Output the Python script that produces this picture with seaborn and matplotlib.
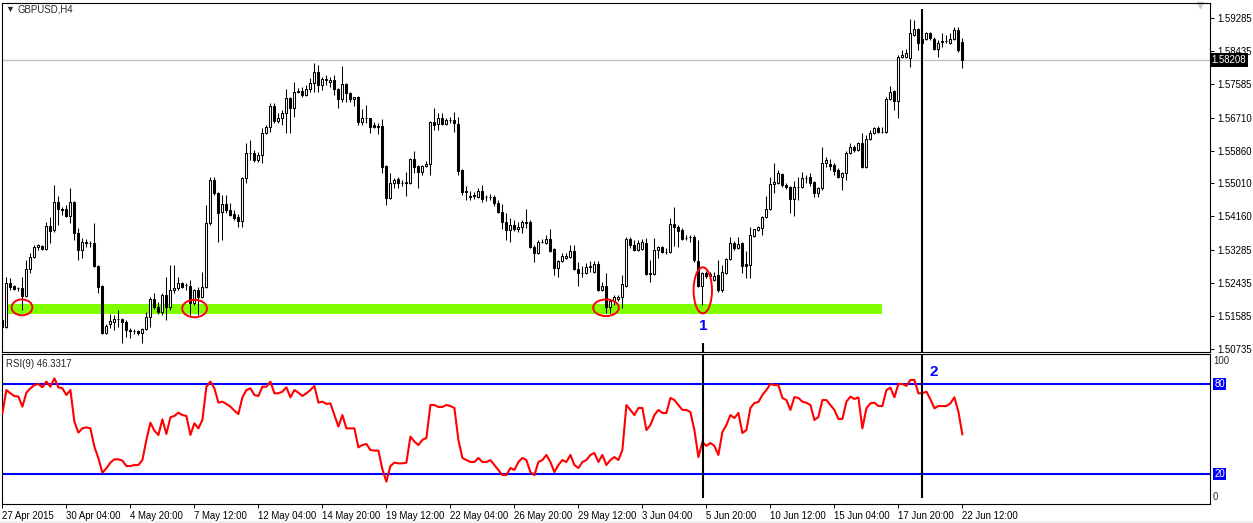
import numpy as np
import pandas as pd
import matplotlib
matplotlib.use("Agg")
import matplotlib.pyplot as plt
from matplotlib.patches import Ellipse, Rectangle
import seaborn as sns

# ---------------- data (GBPUSD H4) ----------------
opens = [
 1.5148, 1.5130, 1.5244, 1.5236, 1.5231, 1.5231, 1.5210, 1.5280, 1.5311, 1.5337,
 1.5340, 1.5332, 1.5391, 1.5381, 1.5453, 1.5435, 1.5435, 1.5417, 1.5453, 1.5373,
 1.5329, 1.5350, 1.5347, 1.5347, 1.5288, 1.5236, 1.5115, 1.5138, 1.5143, 1.5151,
 1.5151, 1.5143, 1.5123, 1.5120, 1.5120, 1.5115, 1.5125, 1.5156, 1.5203, 1.5182,
 1.5169, 1.5213, 1.5182, 1.5226, 1.5231, 1.5244, 1.5239, 1.5236, 1.5192, 1.5226,
 1.5208, 1.5234, 1.5399, 1.5510, 1.5476, 1.5427, 1.5448, 1.5432, 1.5422, 1.5414,
 1.5404, 1.5515, 1.5580, 1.5579, 1.5562, 1.5575, 1.5631, 1.5647, 1.5701, 1.5662,
 1.5670, 1.5683, 1.5722, 1.5696, 1.5737, 1.5740, 1.5730, 1.5745, 1.5761, 1.5789,
 1.5755, 1.5768, 1.5763, 1.5768, 1.5745, 1.5719, 1.5758, 1.5735, 1.5719, 1.5724,
 1.5660, 1.5670, 1.5669, 1.5652, 1.5649, 1.5649, 1.5546, 1.5464, 1.5502, 1.5513,
 1.5502, 1.5502, 1.5502, 1.5564, 1.5546, 1.5531, 1.5546, 1.5551, 1.5660, 1.5655,
 1.5670, 1.5655, 1.5665, 1.5664, 1.5655, 1.5536, 1.5481, 1.5468, 1.5468, 1.5466,
 1.5481, 1.5466, 1.5465, 1.5466, 1.5451, 1.5427, 1.5401, 1.5381, 1.5394, 1.5383,
 1.5389, 1.5401, 1.5401, 1.5337, 1.5321, 1.5350, 1.5347, 1.5358, 1.5332, 1.5283,
 1.5301, 1.5308, 1.5311, 1.5327, 1.5280, 1.5270, 1.5270, 1.5285, 1.5272, 1.5293,
 1.5226, 1.5236, 1.5182, 1.5197, 1.5203, 1.5208, 1.5236, 1.5358, 1.5342, 1.5329,
 1.5332, 1.5347, 1.5267, 1.5267, 1.5329, 1.5337, 1.5324, 1.5324, 1.5396, 1.5389,
 1.5381, 1.5360, 1.5363, 1.5362, 1.5301, 1.5236, 1.5270, 1.5262, 1.5252, 1.5265,
 1.5226, 1.5270, 1.5306, 1.5347, 1.5334, 1.5347, 1.5293, 1.5290, 1.5365, 1.5381,
 1.5386, 1.5414, 1.5435, 1.5499, 1.5502, 1.5526, 1.5497, 1.5492, 1.5461, 1.5492,
 1.5492, 1.5515, 1.5518, 1.5505, 1.5476, 1.5489, 1.5554, 1.5551, 1.5549, 1.5536,
 1.5518, 1.5528, 1.5580, 1.5595, 1.5587, 1.5606, 1.5544, 1.5616, 1.5631, 1.5644,
 1.5634, 1.5634, 1.5719, 1.5740, 1.5714, 1.5828, 1.5828, 1.5825, 1.5885, 1.5900,
 1.5874, 1.5874, 1.5890, 1.5874, 1.5848, 1.5866, 1.5869, 1.5864, 1.5874, 1.5898,
 1.5866]
highs = [
 1.5154, 1.5259, 1.5257, 1.5239, 1.5234, 1.5259, 1.5303, 1.5321, 1.5342, 1.5345,
 1.5342, 1.5401, 1.5414, 1.5497, 1.5469, 1.5440, 1.5445, 1.5489, 1.5456, 1.5386,
 1.5360, 1.5358, 1.5352, 1.5399, 1.5290, 1.5239, 1.5138, 1.5164, 1.5161, 1.5174,
 1.5154, 1.5148, 1.5128, 1.5125, 1.5123, 1.5128, 1.5169, 1.5208, 1.5218, 1.5195,
 1.5218, 1.5259, 1.5290, 1.5290, 1.5259, 1.5246, 1.5244, 1.5252, 1.5228, 1.5234,
 1.5272, 1.5445, 1.5518, 1.5518, 1.5478, 1.5471, 1.5471, 1.5451, 1.5432, 1.5422,
 1.5517, 1.5606, 1.5613, 1.5587, 1.5582, 1.5644, 1.5652, 1.5709, 1.5709, 1.5683,
 1.5691, 1.5745, 1.5724, 1.5763, 1.5748, 1.5750, 1.5755, 1.5774, 1.5812, 1.5807,
 1.5776, 1.5781, 1.5776, 1.5781, 1.5747, 1.5805, 1.5760, 1.5737, 1.5725, 1.5726,
 1.5694, 1.5704, 1.5671, 1.5660, 1.5657, 1.5668, 1.5548, 1.5528, 1.5515, 1.5518,
 1.5510, 1.5531, 1.5567, 1.5585, 1.5549, 1.5549, 1.5559, 1.5662, 1.5696, 1.5683,
 1.5683, 1.5670, 1.5673, 1.5686, 1.5673, 1.5538, 1.5495, 1.5481, 1.5479, 1.5489,
 1.5497, 1.5471, 1.5474, 1.5471, 1.5458, 1.5448, 1.5425, 1.5412, 1.5407, 1.5401,
 1.5407, 1.5435, 1.5407, 1.5342, 1.5355, 1.5358, 1.5368, 1.5384, 1.5334, 1.5303,
 1.5321, 1.5321, 1.5342, 1.5342, 1.5298, 1.5288, 1.5296, 1.5301, 1.5301, 1.5301,
 1.5246, 1.5270, 1.5200, 1.5213, 1.5213, 1.5265, 1.5363, 1.5363, 1.5355, 1.5355,
 1.5358, 1.5360, 1.5303, 1.5360, 1.5340, 1.5340, 1.5334, 1.5412, 1.5440, 1.5394,
 1.5386, 1.5368, 1.5368, 1.5368, 1.5355, 1.5272, 1.5275, 1.5272, 1.5272, 1.5303,
 1.5290, 1.5308, 1.5363, 1.5352, 1.5363, 1.5349, 1.5327, 1.5389, 1.5384, 1.5391,
 1.5417, 1.5469, 1.5518, 1.5554, 1.5536, 1.5528, 1.5502, 1.5494, 1.5507, 1.5518,
 1.5531, 1.5523, 1.5528, 1.5507, 1.5492, 1.5595, 1.5569, 1.5564, 1.5554, 1.5541,
 1.5531, 1.5585, 1.5606, 1.5600, 1.5608, 1.5631, 1.5626, 1.5639, 1.5647, 1.5649,
 1.5647, 1.5724, 1.5753, 1.5742, 1.5833, 1.5846, 1.5848, 1.5926, 1.5923, 1.5903,
 1.5879, 1.5892, 1.5892, 1.5879, 1.5872, 1.5890, 1.5885, 1.5890, 1.5905, 1.5905,
 1.5877]
lows = [
 1.5104, 1.5128, 1.5226, 1.5226, 1.5223, 1.5174, 1.5208, 1.5270, 1.5309, 1.5329,
 1.5329, 1.5330, 1.5347, 1.5376, 1.5394, 1.5420, 1.5414, 1.5399, 1.5355, 1.5303,
 1.5308, 1.5337, 1.5337, 1.5286, 1.5218, 1.5113, 1.5113, 1.5128, 1.5123, 1.5130,
 1.5089, 1.5105, 1.5102, 1.5112, 1.5110, 1.5089, 1.5123, 1.5130, 1.5177, 1.5164,
 1.5161, 1.5148, 1.5174, 1.5218, 1.5226, 1.5231, 1.5226, 1.5161, 1.5187, 1.5161,
 1.5206, 1.5232, 1.5394, 1.5471, 1.5350, 1.5355, 1.5425, 1.5418, 1.5407, 1.5389,
 1.5389, 1.5502, 1.5562, 1.5556, 1.5556, 1.5554, 1.5629, 1.5634, 1.5657, 1.5657,
 1.5652, 1.5631, 1.5631, 1.5673, 1.5735, 1.5724, 1.5728, 1.5737, 1.5737, 1.5737,
 1.5742, 1.5755, 1.5750, 1.5730, 1.5696, 1.5711, 1.5711, 1.5711, 1.5701, 1.5652,
 1.5652, 1.5657, 1.5631, 1.5644, 1.5629, 1.5528, 1.5445, 1.5462, 1.5489, 1.5489,
 1.5495, 1.5469, 1.5500, 1.5528, 1.5489, 1.5523, 1.5544, 1.5523, 1.5639, 1.5639,
 1.5652, 1.5653, 1.5657, 1.5634, 1.5523, 1.5471, 1.5458, 1.5458, 1.5461, 1.5464,
 1.5453, 1.5456, 1.5458, 1.5443, 1.5425, 1.5384, 1.5355, 1.5350, 1.5378, 1.5376,
 1.5373, 1.5386, 1.5335, 1.5298, 1.5319, 1.5347, 1.5345, 1.5324, 1.5265, 1.5259,
 1.5298, 1.5306, 1.5308, 1.5277, 1.5236, 1.5259, 1.5268, 1.5272, 1.5270, 1.5224,
 1.5223, 1.5166, 1.5166, 1.5187, 1.5198, 1.5179, 1.5234, 1.5334, 1.5327, 1.5327,
 1.5329, 1.5265, 1.5246, 1.5265, 1.5308, 1.5321, 1.5319, 1.5322, 1.5340, 1.5337,
 1.5355, 1.5355, 1.5350, 1.5298, 1.5234, 1.5187, 1.5257, 1.5259, 1.5249, 1.5221,
 1.5221, 1.5267, 1.5304, 1.5329, 1.5332, 1.5270, 1.5257, 1.5257, 1.5363, 1.5379,
 1.5368, 1.5412, 1.5432, 1.5476, 1.5500, 1.5492, 1.5487, 1.5425, 1.5417, 1.5458,
 1.5490, 1.5502, 1.5495, 1.5466, 1.5466, 1.5484, 1.5544, 1.5536, 1.5523, 1.5515,
 1.5484, 1.5510, 1.5577, 1.5582, 1.5585, 1.5541, 1.5541, 1.5613, 1.5629, 1.5631,
 1.5631, 1.5631, 1.5717, 1.5691, 1.5670, 1.5825, 1.5825, 1.5802, 1.5882, 1.5846,
 1.5861, 1.5872, 1.5872, 1.5846, 1.5828, 1.5854, 1.5864, 1.5862, 1.5872, 1.5841,
 1.5799]
closes = [
 1.5130, 1.5244, 1.5234, 1.5228, 1.5230, 1.5210, 1.5280, 1.5311, 1.5337, 1.5342,
 1.5332, 1.5391, 1.5378, 1.5453, 1.5435, 1.5432, 1.5417, 1.5453, 1.5373, 1.5329,
 1.5350, 1.5347, 1.5346, 1.5288, 1.5234, 1.5115, 1.5133, 1.5146, 1.5151, 1.5150,
 1.5143, 1.5123, 1.5120, 1.5119, 1.5115, 1.5125, 1.5156, 1.5203, 1.5182, 1.5169,
 1.5213, 1.5182, 1.5226, 1.5231, 1.5244, 1.5234, 1.5238, 1.5192, 1.5226, 1.5208,
 1.5234, 1.5399, 1.5510, 1.5476, 1.5425, 1.5448, 1.5432, 1.5420, 1.5412, 1.5404,
 1.5515, 1.5580, 1.5579, 1.5562, 1.5575, 1.5631, 1.5647, 1.5701, 1.5662, 1.5670,
 1.5683, 1.5722, 1.5696, 1.5737, 1.5740, 1.5730, 1.5745, 1.5761, 1.5789, 1.5755,
 1.5771, 1.5771, 1.5768, 1.5745, 1.5719, 1.5758, 1.5735, 1.5719, 1.5724, 1.5660,
 1.5670, 1.5669, 1.5647, 1.5647, 1.5648, 1.5544, 1.5464, 1.5502, 1.5510, 1.5502,
 1.5501, 1.5505, 1.5564, 1.5544, 1.5531, 1.5546, 1.5551, 1.5660, 1.5652, 1.5670,
 1.5655, 1.5665, 1.5664, 1.5657, 1.5533, 1.5479, 1.5480, 1.5467, 1.5471, 1.5481,
 1.5461, 1.5465, 1.5466, 1.5451, 1.5427, 1.5401, 1.5381, 1.5394, 1.5383, 1.5389,
 1.5401, 1.5400, 1.5337, 1.5321, 1.5350, 1.5349, 1.5358, 1.5327, 1.5283, 1.5301,
 1.5314, 1.5314, 1.5327, 1.5280, 1.5270, 1.5269, 1.5285, 1.5288, 1.5293, 1.5226,
 1.5236, 1.5182, 1.5197, 1.5208, 1.5208, 1.5241, 1.5358, 1.5342, 1.5329, 1.5347,
 1.5350, 1.5268, 1.5270, 1.5329, 1.5337, 1.5324, 1.5323, 1.5396, 1.5389, 1.5378,
 1.5358, 1.5359, 1.5362, 1.5303, 1.5236, 1.5270, 1.5262, 1.5267, 1.5262, 1.5226,
 1.5272, 1.5306, 1.5347, 1.5334, 1.5345, 1.5288, 1.5288, 1.5368, 1.5383, 1.5389,
 1.5414, 1.5435, 1.5499, 1.5505, 1.5528, 1.5497, 1.5492, 1.5461, 1.5492, 1.5491,
 1.5515, 1.5514, 1.5502, 1.5476, 1.5489, 1.5554, 1.5562, 1.5546, 1.5533, 1.5518,
 1.5528, 1.5580, 1.5595, 1.5587, 1.5606, 1.5544, 1.5616, 1.5631, 1.5644, 1.5634,
 1.5635, 1.5719, 1.5737, 1.5714, 1.5828, 1.5833, 1.5838, 1.5890, 1.5900, 1.5864,
 1.5864, 1.5890, 1.5877, 1.5848, 1.5864, 1.5869, 1.5868, 1.5874, 1.5898, 1.5846,
 1.5821]
rsi9 = [
 60.4, 76, 73.8, 72, 71.6, 64.9, 74.2, 77.1, 79.3, 80,
 77.8, 81.6, 78.2, 83.8, 77.8, 77.1, 72.7, 76, 54.9, 47.6,
 50.4, 51.1, 50.4, 38.2, 30.4, 20.9, 23.8, 27.6, 29.8, 29.8,
 28.9, 25.3, 25.3, 26, 26, 29.3, 42.7, 54.2, 48.9, 46,
 56.4, 46.7, 57.8, 58.7, 60.9, 59.3, 58.7, 46, 53.8, 50.4,
 56, 78.2, 81.6, 77.1, 67.6, 68.2, 66.7, 64.9, 62.2, 60,
 71.1, 76, 77.1, 72.7, 72, 78.2, 78.2, 81.6, 73.8, 73.8,
 74.9, 77.8, 71.1, 76, 74.2, 72, 73.8, 76, 78.7, 67.6,
 68.2, 66.7, 67.1, 59.3, 51.6, 59.3, 50.4, 50.4, 50.4, 37.8,
 39.3, 40, 36, 35.6, 35.6, 23.1, 14.9, 25.3, 27.6, 27.1,
 27.1, 27.6, 44.9, 41.6, 39.3, 42.7, 44, 66, 66, 64.7,
 64.7, 66, 65.3, 64, 42.7, 30.7, 29.3, 28, 28, 30.7,
 28, 28, 29.3, 26, 22.7, 19.3, 19.3, 24, 22.7, 28,
 30.7, 29.3, 21.3, 19.3, 28, 29.3, 32.7, 28, 21.3, 26,
 29.3, 28, 32.7, 26, 24, 28, 29.3, 32.7, 34, 28,
 32.7, 26, 29.3, 31.3, 29.3, 36, 66, 62.7, 59.3, 64,
 64, 49.3, 52.7, 59.3, 62.7, 60.7, 60.7, 70.7, 69.3, 66,
 62.7, 62.7, 61.3, 49.3, 31.3, 41.3, 38.7, 40.7, 38.7, 32.7,
 48, 52.7, 59.3, 57.3, 60.7, 47.3, 49.3, 64, 67.3, 68,
 72.7, 76, 80, 79.3, 79.3, 70.7, 69.3, 62.7, 71.3, 70.7,
 68.2, 67.5, 66, 56, 58, 69.3, 69.3, 66, 62.7, 56.7,
 56.7, 68.2, 71.6, 70, 71.1, 50.4, 63.8, 67.1, 67.6, 65.3,
 65.3, 76, 77.6, 71.1, 80, 80, 78.7, 82.7, 82.7, 73.8,
 73.8, 74.9, 69.8, 63.8, 65.3, 65.3, 65.3, 67.1, 71.1, 61.6,
 46.3]

price_ticks = [1.59285, 1.58435, 1.57585, 1.56710, 1.55860, 1.55010,
               1.54160, 1.53285, 1.52435, 1.51585, 1.50735]
time_tick_bars = [0, 16, 32, 48, 64, 80, 96, 112, 128, 144, 160, 176, 192, 208, 224, 240]
time_tick_labels = ["27 Apr 2015", "30 Apr 04:00", "4 May 20:00", "7 May 12:00",
                    "12 May 04:00", "14 May 20:00", "19 May 12:00", "22 May 04:00",
                    "26 May 20:00", "29 May 12:00", "3 Jun 04:00", "5 Jun 20:00",
                    "10 Jun 12:00", "15 Jun 04:00", "17 Jun 20:00", "22 Jun 12:00"]
current_price = 1.58208
rsi_last = 46.3317
support_zone = (1.5164, 1.5190)
support_span = (1.5, 220)
rsi_levels = [80, 20]

# ---------------- style ----------------
sns.set_style("white")
plt.rcParams['font.family'] = ['Liberation Sans', 'DejaVu Sans']
FS = 6.9

W, H = 1253, 523
fig = plt.figure(figsize=(W / 100, H / 100), dpi=100, facecolor='white')
ax = fig.add_axes([2 / W, 1 - 352 / H, 1208 / W, 349 / H])
ax2 = fig.add_axes([2 / W, 1 - 504 / H, 1208 / W, 150 / H])

df = pd.DataFrame({"bar": np.arange(len(closes)), "open": opens, "high": highs,
                   "low": lows, "close": closes, "rsi": rsi9})

# ---------------- price pane ----------------
ax.fill_between(list(support_span), support_zone[0], support_zone[1],
                color='#80FF00', lw=0, zorder=1)
ax.axhline(current_price, color='#C0C0C0', lw=0.9, zorder=1.5)

up = df["close"] >= df["open"]
ax.vlines(df["bar"], df["low"], df["high"], color='black', lw=0.75, zorder=2)
body_bottom = np.minimum(df["open"], df["close"])
body_height = (df["close"] - df["open"]).abs()
ax.bar(df["bar"], body_height, bottom=body_bottom, width=0.52,
       color=np.where(up, 'white', 'black'), edgecolor='black', linewidth=0.75, zorder=3)

# red ellipses
for (cx, cy, w, h) in [(4.9, 1.5181, 5.2, 0.0041), (48.05, 1.5178, 6.2, 0.0045),
                       (150.9, 1.5180, 6.4, 0.0043), (175.1, 1.5225, 4.6, 0.0119)]:
    ax.add_patch(Ellipse((cx, cy), w, h, fill=False, edgecolor='#FF0000', lw=1.4, zorder=4))

# vertical marker lines
ax.vlines([175.25], 1.5090, 1.50657, color='black', lw=1.5, zorder=4)
ax.vlines([230], 1.5951, 1.50657, color='black', lw=1.5, zorder=4)
ax.text(175.3, 1.5133, "1", color='#0000FF', fontsize=11, fontweight='bold',
        ha='center', va='center', zorder=5)

ax.set_xlim(-0.1, 301.9)
ax.set_ylim(1.50657, 1.59673)
ax.set_xticks([])
ax.yaxis.tick_right()
ax.set_yticks(price_ticks)
ax.set_yticklabels([f"{v:.5f}" for v in price_ticks])
ax.tick_params(axis='y', direction='out', length=3, width=0.7, pad=2.5,
               labelsize=FS, colors='black', right=True, left=False)
ax.text(1.0015, current_price, f"{current_price:.5f}", transform=ax.get_yaxis_transform(),
        color='white', fontsize=FS, ha='left', va='center',
        bbox=dict(facecolor='black', edgecolor='none', pad=1.4), zorder=6, clip_on=False)
ax.plot([0.9915], [0.993], marker='v', color='#C8C8C8', markersize=5,
        transform=ax.transAxes, clip_on=False)
for s in ax.spines.values():
    s.set_color('black')
    s.set_linewidth(0.8)

# ---------------- RSI pane ----------------
sns.lineplot(data=df, x="bar", y="rsi", ax=ax2, color='#FF0000', lw=1.5, zorder=3)
for lv in rsi_levels:
    ax2.axhline(lv, color='#0000FF', lw=1.5, zorder=2)
ax2.vlines([175.25, 230], 4, 100, color='black', lw=1.5, zorder=4)
ax2.text(232.75, 88, "2", color='#0000FF', fontsize=11, fontweight='bold',
         ha='center', va='center', zorder=5)
ax2.set_xlim(-0.1, 301.9)
ax2.set_ylim(0, 100)
ax2.set_xlabel("")
ax2.set_ylabel("")
ax2.set_yticks([])
ax2.set_xticks(time_tick_bars)
ax2.set_xticklabels(time_tick_labels, ha='left')
ax2.tick_params(axis='x', direction='out', length=3, width=0.7, pad=2,
                labelsize=FS, colors='black', bottom=True)
ytr = ax2.get_yaxis_transform()
ax2.text(1.0025, 95.3, "100", transform=ytr, ha='left', va='center', fontsize=FS)
ax2.text(1.0025, 4.7, "0", transform=ytr, ha='left', va='center', fontsize=FS)
for lv in rsi_levels:
    ax2.text(1.0035, lv, str(lv), transform=ytr, ha='left', va='center', fontsize=FS,
             color='white', bbox=dict(facecolor='#0000FF', edgecolor='none', pad=0.8))
for s in ax2.spines.values():
    s.set_color('black')
    s.set_linewidth(0.8)

# ---------------- header texts ----------------
fig.text(5 / W, 1 - 9 / H, "\u25BC", fontsize=6.5, va='center', ha='left')
fig.text(17 / W, 1 - 9 / H, "GBPUSD,H4", fontsize=FS, va='center', ha='left')
fig.text(6 / W, 1 - 364 / H, f"RSI(9) {rsi_last:.4f}", fontsize=FS, va='center', ha='left')

fig.patches.append(Rectangle((0, 0), 1, 2 / H, transform=fig.transFigure,
                             facecolor='#F0F0F0', edgecolor='none', zorder=0))

fig.savefig("out.png", dpi=100, facecolor='white')
